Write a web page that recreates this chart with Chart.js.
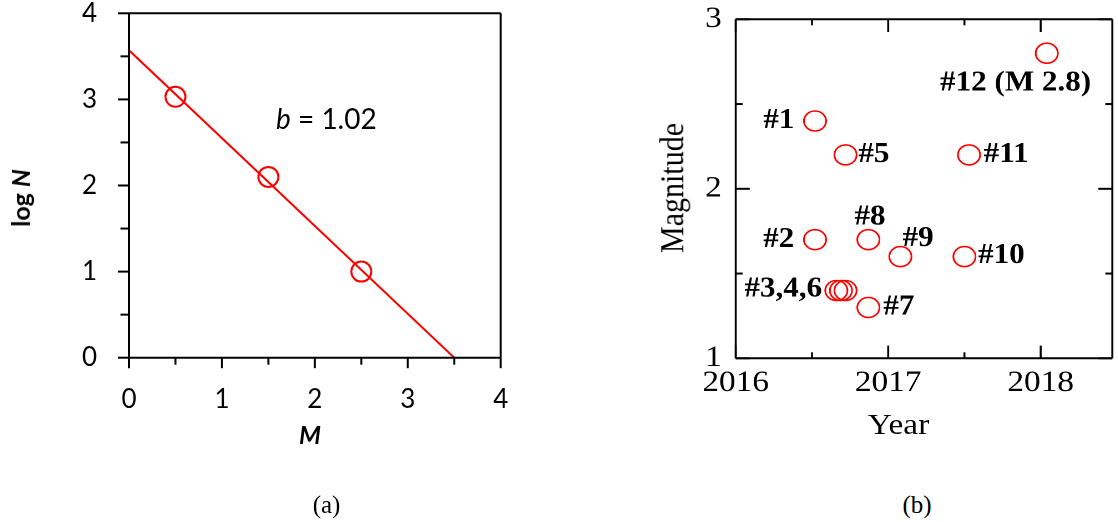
<!DOCTYPE html>
<html>
<head>
<meta charset="utf-8">
<script src="https://cdn.jsdelivr.net/npm/chart.js@4.4.1/dist/chart.umd.min.js"></script>
<style>
  html, body { margin: 0; padding: 0; background: #fff; }
  body { width: 1118px; height: 522px; position: relative; overflow: hidden; }
  #panelA { position: absolute; left: 0; top: 0; width: 560px; height: 460px; }
  #panelB { position: absolute; left: 560px; top: 0; width: 503px; height: 460px;
            transform: scaleX(1.11); transform-origin: 0 0; }
  .lbl { position: absolute; white-space: nowrap; line-height: 1; color: #000;
         transform: translate(-50%, -50%); }
  .rot { transform: translate(-50%, -50%) rotate(-90deg); }
</style>
</head>
<body>
<div id="panelA">
  <canvas id="chartA" width="560" height="460"></canvas>
  <div class="lbl rot" style="left:20px; top:198px; font:bold 25px Lato;">log <i>N</i></div>
  <div class="lbl" style="left:310px; top:434px; font:italic bold 25px Lato;">M</div>
</div>
<div id="panelB">
  <canvas id="chartB" width="503" height="460"></canvas>
  <div class="lbl rot" style="left:100.9px; top:187.5px; font:30px 'Liberation Serif';">Magnitude</div>
  <div class="lbl" style="left:305px; top:424px; font:30px 'Liberation Serif';">Year</div>
</div>
<div class="lbl" style="left:326.5px; top:505px; font:25px 'Liberation Serif';">(a)</div>
<div class="lbl" style="left:917px; top:505px; font:25px 'Liberation Serif';">(b)</div>

<script>
// ---- (a) frequency–magnitude data ----
const magnitudeBins = [0.5, 1.5, 2.5];
const logCounts = [3.03, 2.10, 1.00];
const bValue = 1.02;          // slope of the Gutenberg–Richter fit
const fitIntercept = 3.57;    // a-value
const fitRange = [0, 3.5];
const ticksA = [0, 1, 2, 3, 4];
const minorA = [0.5, 1.5, 2.5, 3.5];

// ---- (b) event catalogue ----
const eventNames = ['#1', '#2', '#3', '#4', '#5', '#6', '#7', '#8', '#9', '#10', '#11', '#12'];
const eventYears = [2016.52, 2016.52, 2016.66, 2016.69, 2016.72, 2016.72, 2016.87, 2016.87, 2017.08, 2017.50, 2017.53, 2018.04];
const eventMags  = [2.4, 1.7, 1.4, 1.4, 2.2, 1.4, 1.3, 1.7, 1.6, 1.6, 2.2, 2.8];
const yearTicks = [2016, 2017, 2018];
const yearMinor = [2016.5, 2017.5];
const magTicks = [1, 2, 3];
const magMinor = [1.5, 2.5];

// label text per event (events 4 and 6 share the label of event 3)
const eventLabels = eventNames.map((n, i) => {
  if (i === 2) return '#3,4,6';
  if (i === 3 || i === 5) return '';
  if (i === 11) return n + ' (M ' + eventMags[i].toFixed(1) + ')';
  return n;
});
// where each label sits relative to its marker
const labelPlacement = [
  { dx: -18.6, dy: 0,   align: 'right' },
  { dx: -18.7, dy: 0,   align: 'right' },
  { dx: -12.9, dy: -1,  align: 'right' },
  null,
  { dx: 11.5,  dy: 0,   align: 'left' },
  null,
  { dx: 13.5,  dy: 0,   align: 'left' },
  { dx: 1.4,   dy: -22.3, align: 'center' },
  { dx: 2,     dy: -18, align: 'left' },
  { dx: 12.3,  dy: -1,  align: 'left' },
  { dx: 13.2,  dy: 0,   align: 'left' },
  { dx: -28.1, dy: 30,  align: 'center' }
];

Chart.defaults.color = '#000';

// box frame plus major/minor tick marks
const framePlugin = {
  id: 'frame',
  afterDraw(chart, args, o) {
    const { ctx, chartArea: a, scales: { x, y } } = chart;
    ctx.save();
    ctx.strokeStyle = '#000';
    ctx.lineCap = 'butt';
    const line = (x1, y1, x2, y2, w) => {
      ctx.lineWidth = w; ctx.beginPath(); ctx.moveTo(x1, y1); ctx.lineTo(x2, y2); ctx.stroke();
    };
    const sgn = o.inside ? -1 : 1;
    const xTick = (v, len) => {
      const p = x.getPixelForValue(v);
      line(p, a.bottom, p, a.bottom + sgn * len, o.xTickWidth);
      if (o.mirror) line(p, a.top, p, a.top + len, o.xTickWidth);
    };
    const yTick = (v, len) => {
      const p = y.getPixelForValue(v);
      line(a.left, p, a.left - sgn * len, p, o.yTickWidth);
      if (o.mirror) line(a.right, p, a.right - len, p, o.yTickWidth);
    };
    o.xMajor.forEach(v => xTick(v, o.xMajorLen));
    o.xMinor.forEach(v => xTick(v, o.xMinorLen));
    o.yMajor.forEach(v => yTick(v, o.yMajorLen));
    o.yMinor.forEach(v => yTick(v, o.yMinorLen));
    // frame
    line(a.left, a.top, a.right, a.top, o.hWidth);
    line(a.left, a.bottom, a.right, a.bottom, o.hWidth);
    line(a.left, a.top, a.left, a.bottom, o.vWidth);
    line(a.right, a.top, a.right, a.bottom, o.vWidth);
    ctx.restore();
  }
};

// b-value annotation
const bTextPlugin = {
  id: 'bText',
  afterDatasetsDraw(chart, args, o) {
    const { ctx, scales: { x, y } } = chart;
    const px = x.getPixelForValue(o.at[0]);
    const py = y.getPixelForValue(o.at[1]);
    ctx.save();
    ctx.fillStyle = '#000';
    ctx.textBaseline = 'middle';
    ctx.textAlign = 'left';
    ctx.font = 'italic 28px Lato';
    ctx.fillText('b', px, py);
    const w = ctx.measureText('b').width;
    ctx.font = '28px Lato';
    ctx.fillText(' = ' + bValue.toFixed(2), px + w, py);
    ctx.restore();
  }
};

// event labels next to the markers
const eventLabelPlugin = {
  id: 'eventLabels',
  afterDatasetsDraw(chart) {
    const { ctx, scales: { x, y } } = chart;
    ctx.save();
    ctx.fillStyle = '#000';
    ctx.font = 'bold 28px "Liberation Serif"';
    ctx.textBaseline = 'middle';
    eventLabels.forEach((t, i) => {
      const p = labelPlacement[i];
      if (!t || !p) return;
      ctx.textAlign = p.align;
      ctx.fillText(t, x.getPixelForValue(eventYears[i]) + p.dx, y.getPixelForValue(eventMags[i]) + p.dy);
    });
    ctx.restore();
  }
};

const fixTicks = values => scale => { scale.ticks = values.map(v => ({ value: v })); };

// ---------- chart (a) ----------
new Chart(document.getElementById('chartA'), {
  type: 'scatter',
  data: {
    datasets: [
      {
        data: fitRange.map(m => ({ x: m, y: fitIntercept - bValue * m })),
        showLine: true, pointRadius: 0, borderColor: '#ff0000', borderWidth: 2, fill: false
      },
      {
        data: magnitudeBins.map((m, i) => ({ x: m, y: logCounts[i] })),
        pointRadius: 10, pointBorderWidth: 2, pointBorderColor: '#ff0000',
        pointBackgroundColor: 'rgba(0,0,0,0)', showLine: false
      }
    ]
  },
  options: {
    responsive: false, animation: false, events: [],
    layout: { autoPadding: false, padding: { left: 0, top: 13.3, right: 59.3, bottom: 2.3 } },
    plugins: {
      legend: { display: false }, tooltip: { enabled: false },
      frame: { inside: false, mirror: false,
               xMajor: ticksA, xMinor: minorA, yMajor: ticksA, yMinor: minorA,
               xMajorLen: 10.5, xMinorLen: 7, yMajorLen: 11, yMinorLen: 8.5,
               xTickWidth: 2, yTickWidth: 2, hWidth: 2, vWidth: 2 },
      bText: { at: [1.582, 2.76] }
    },
    scales: {
      x: {
        type: 'linear', min: 0, max: 4,
        afterBuildTicks: fixTicks(ticksA),
        afterFit(s) { s.height = 100; s.paddingLeft = 0; s.paddingRight = 0; },
        grid: { display: false, drawTicks: false }, border: { display: false },
        ticks: { padding: 26, font: { family: 'Lato', size: 26 }, color: '#000', callback: v => String(v) }
      },
      y: {
        type: 'linear', min: 0, max: 4,
        afterBuildTicks: fixTicks(ticksA),
        afterFit(s) { s.width = 129; s.paddingTop = 0; s.paddingBottom = 0; },
        grid: { display: false, drawTicks: false }, border: { display: false },
        ticks: { padding: 32, font: { family: 'Lato', size: 26 }, color: '#000', callback: v => String(v) }
      }
    }
  },
  plugins: [framePlugin, bTextPlugin]
});

// ---------- chart (b) ----------
new Chart(document.getElementById('chartB'), {
  type: 'scatter',
  data: {
    datasets: [{
      data: eventYears.map((t, i) => ({ x: t, y: eventMags[i] })),
      pointRadius: 10, pointBorderWidth: 1.6, pointBorderColor: '#ff0000',
      pointBackgroundColor: 'rgba(0,0,0,0)', showLine: false
    }]
  },
  options: {
    responsive: false, animation: false, events: [], devicePixelRatio: 2,
    layout: { autoPadding: false, padding: { left: 0, top: 19.3, right: 5.4, bottom: 1.7 } },
    plugins: {
      legend: { display: false }, tooltip: { enabled: false },
      frame: { inside: true, mirror: true,
               xMajor: yearTicks, xMinor: yearMinor, yMajor: magTicks, yMinor: magMinor,
               xMajorLen: 12.7, xMinorLen: 6, yMajorLen: 12.6, yMinorLen: 6.3,
               xTickWidth: 1.8, yTickWidth: 2, hWidth: 2, vWidth: 1.8 }
    },
    scales: {
      x: {
        type: 'linear', min: 2016, max: 2018.47,
        afterBuildTicks: fixTicks(yearTicks),
        afterFit(s) { s.height = 100; s.paddingLeft = 0; s.paddingRight = 0; },
        grid: { display: false, drawTicks: false }, border: { display: false },
        ticks: { padding: 6.7, font: { family: 'Liberation Serif', size: 30 }, color: '#000', callback: v => String(v) }
      },
      y: {
        type: 'linear', min: 1, max: 3,
        afterBuildTicks: fixTicks(magTicks),
        afterFit(s) { s.width = 158.3; s.paddingTop = 0; s.paddingBottom = 0; },
        grid: { display: false, drawTicks: false }, border: { display: false },
        ticks: { padding: 12.6, font: { family: 'Liberation Serif', size: 30 }, color: '#000', callback: v => String(v) }
      }
    }
  },
  plugins: [framePlugin, eventLabelPlugin]
});
</script>
</body>
</html>
